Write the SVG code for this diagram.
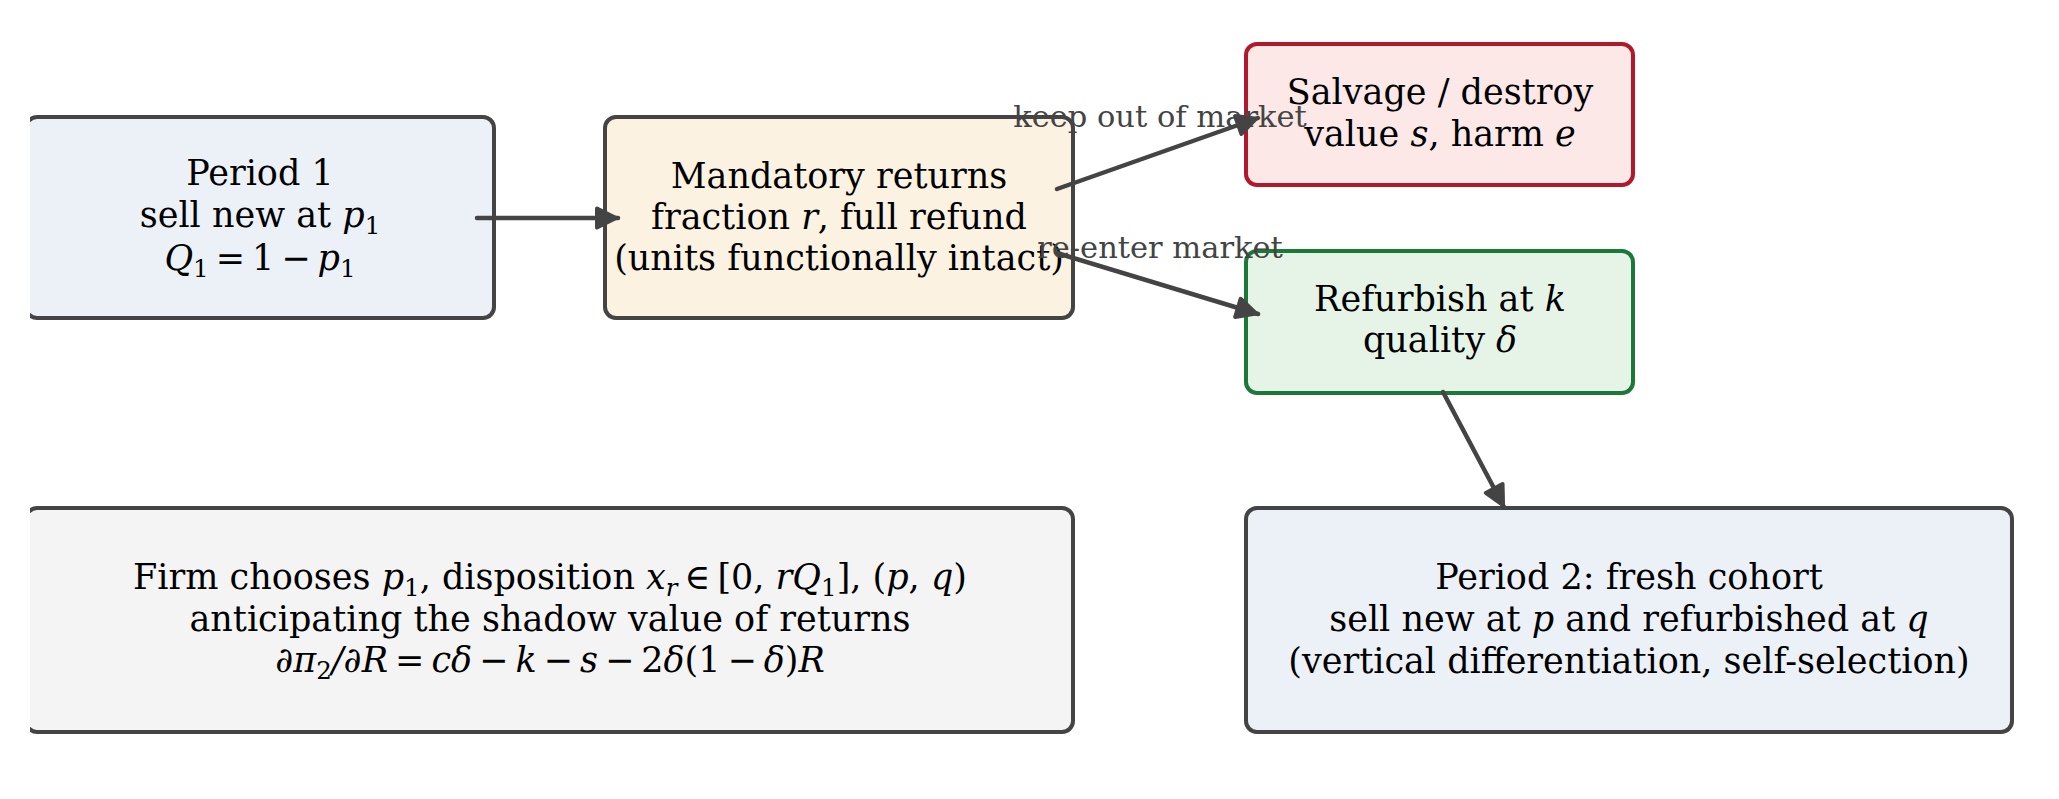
<svg xmlns="http://www.w3.org/2000/svg" width="2059" height="799" viewBox="0 0 2059 799">
<style>
.box{stroke-width:4;stroke-linejoin:round}
.t{font-family:"DejaVu Serif","Liberation Serif",serif;font-size:35px;fill:#000;text-anchor:middle}
.i{font-style:italic}
.s{font-size:24.5px}
.lbl{font-family:"DejaVu Serif","Liberation Serif",serif;font-size:30.5px;fill:#444;text-anchor:middle}
.c{fill:none;stroke:#444;stroke-width:4.5;stroke-linecap:round}
</style>
<defs>
<clipPath id="clip"><rect x="30" y="0" width="2029" height="799"/></clipPath>
<marker id="ah" markerUnits="userSpaceOnUse" markerWidth="40" markerHeight="40" refX="0" refY="0" orient="auto" overflow="visible">
<path d="M-19,-9.5 L0,0 L-19,9.5 Z" fill="#444" stroke="#444" stroke-width="4" stroke-linejoin="round" transform="translate(-2,0)"/>
</marker>
</defs>
<rect width="2059" height="799" fill="#fff"/>
<g id="period1" clip-path="url(#clip)">
<rect class="box" x="26" y="117" width="468" height="201" rx="11" fill="#ecf1f8" stroke="#444"/>
<text class="t" x="260" y="185">Period 1</text>
<text class="t" x="260" y="227">sell new at <tspan class="i">p</tspan><tspan class="s" dy="7">1</tspan></text>
<text class="t" x="260" y="270"><tspan class="i">Q</tspan><tspan class="s" dy="7">1</tspan><tspan dy="-7">&#8201;=&#8201;1&#8201;−&#8201;</tspan><tspan class="i">p</tspan><tspan class="s" dy="7">1</tspan></text>
</g>
<g id="returns">
<rect class="box" x="605" y="117" width="468" height="201" rx="11" fill="#fcf2e2" stroke="#444"/>
<text class="t" x="839" y="188">Mandatory returns</text>
<text class="t" x="839" y="229">fraction <tspan class="i">r</tspan>, full refund</text>
<text class="t" x="839" y="270">(units functionally intact)</text>
</g>
<g id="salvage">
<rect class="box" x="1246" y="44" width="387" height="141" rx="11" fill="#fbe8e7" stroke="#b2182b"/>
<text class="t" x="1440" y="104">Salvage / destroy</text>
<text class="t" x="1440" y="146">value <tspan class="i">s</tspan>, harm <tspan class="i">e</tspan></text>
</g>
<g id="refurbish">
<rect class="box" x="1246" y="251" width="387" height="142" rx="11" fill="#e6f4e7" stroke="#1b7837"/>
<text class="t" x="1440" y="311">Refurbish at <tspan class="i">k</tspan></text>
<text class="t" x="1440" y="352">quality <tspan class="i">δ</tspan></text>
</g>
<g id="firm" clip-path="url(#clip)">
<rect class="box" x="26" y="508" width="1047" height="224" rx="11" fill="#f4f4f4" stroke="#444"/>
<text class="t" x="550" y="589">Firm chooses <tspan class="i">p</tspan><tspan class="s" dy="7">1</tspan><tspan dy="-7">, disposition </tspan><tspan class="i">x</tspan><tspan class="s i" dy="7">r</tspan><tspan dy="-7">&#8201;∈&#8201;[0, </tspan><tspan class="i">rQ</tspan><tspan class="s" dy="7">1</tspan><tspan dy="-7">], (</tspan><tspan class="i">p</tspan>, <tspan class="i">q</tspan>)</text>
<text class="t" x="550" y="631">anticipating the shadow value of returns</text>
<text class="t" x="550" y="672"><tspan class="i">∂π</tspan><tspan class="s" dy="7">2</tspan><tspan class="i" dy="-7">/∂R</tspan>&#8201;=&#8201;<tspan class="i">cδ</tspan>&#8201;−&#8201;<tspan class="i">k</tspan>&#8201;−&#8201;<tspan class="i">s</tspan>&#8201;−&#8201;2<tspan class="i">δ</tspan>(1&#8201;−&#8201;<tspan class="i">δ</tspan>)<tspan class="i">R</tspan></text>
</g>
<g id="period2">
<rect class="box" x="1246" y="508" width="766" height="224" rx="11" fill="#ecf1f8" stroke="#444"/>
<text class="t" x="1629" y="589">Period 2: fresh cohort</text>
<text class="t" x="1629" y="631">sell new at <tspan class="i">p</tspan> and refurbished at <tspan class="i">q</tspan></text>
<text class="t" x="1629" y="673">(vertical differentiation, self-selection)</text>
</g>
<g id="connectors">
<text class="lbl" x="1160" y="127">keep out of market</text>
<text class="lbl" x="1160" y="258">re-enter market</text>
<path class="c" d="M477,218 L618,218" marker-end="url(#ah)"/>
<path class="c" d="M1057,189 L1258,118" marker-end="url(#ah)"/>
<path class="c" d="M1057,253 L1258,314" marker-end="url(#ah)"/>
<path class="c" d="M1443,392 L1504,507" marker-end="url(#ah)"/>
</g>
</svg>
